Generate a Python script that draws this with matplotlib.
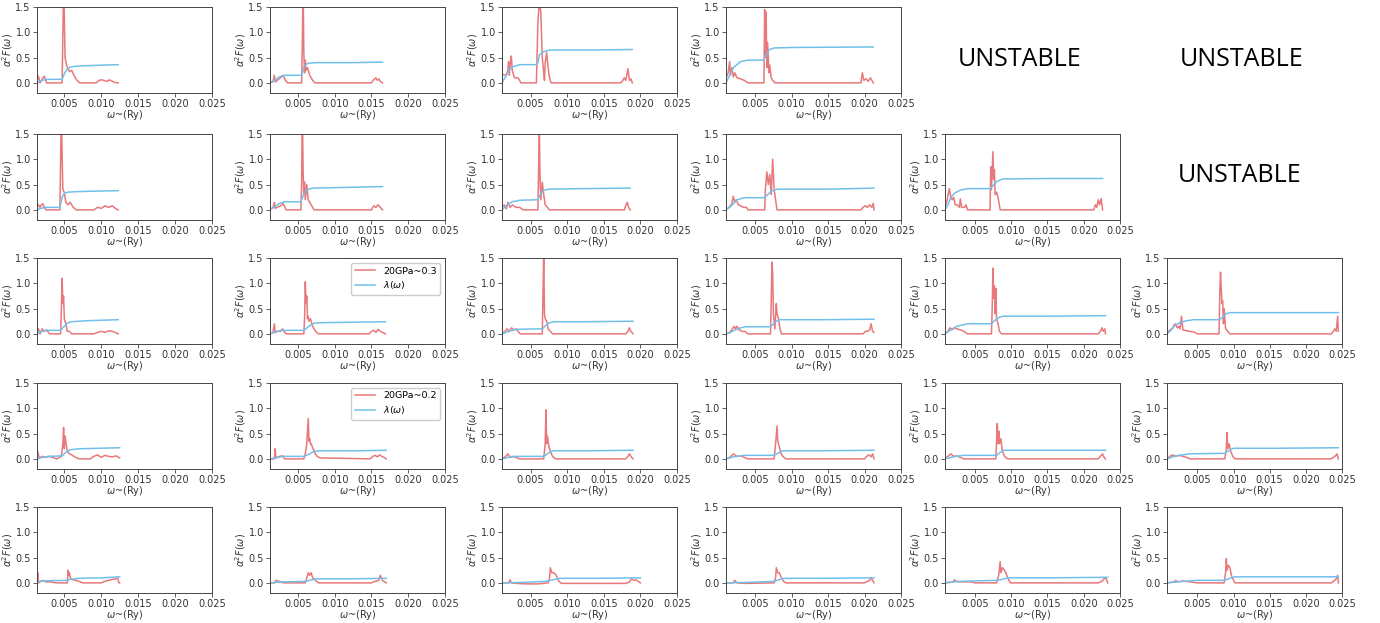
import matplotlib
matplotlib.use("Agg")
import matplotlib.pyplot as plt

# ---------------- data ----------------
xticks = [0.005, 0.010, 0.015, 0.020, 0.025]
yticks = [0.0, 0.5, 1.0, 1.5]
legend_labels = {"r3c2": "20GPa~0.3", "r4c2": "20GPa~0.2"}
lambda_label = r"$\lambda(\omega)$"
unstable_text = "UNSTABLE"

# Row 1
r1c1_w = [0.0013, 0.0015, 0.0017, 0.0019, 0.0021, 0.0023, 0.0025, 0.0026, 0.0047, 0.0048, 0.0049, 0.0050, 0.0051, 0.0053, 0.0055, 0.0057, 0.0060, 0.0063, 0.0067, 0.0071, 0.0093, 0.0097, 0.0101, 0.0105, 0.0108, 0.0111, 0.0114, 0.0118, 0.0123]
r1c1_a2f = [0.05, 0.13, 0.0, 0.05, 0.10, 0.13, 0.05, 0.0, 0.0, 0.9, 1.9, 1.3, 0.5, 0.35, 0.28, 0.22, 0.25, 0.15, 0.05, 0.0, 0.0, 0.05, 0.06, 0.04, 0.03, 0.06, 0.04, 0.01, 0.0]
r1c1_lw = [0.0013, 0.0018, 0.0025, 0.0047, 0.0050, 0.0053, 0.0058, 0.0065, 0.0080, 0.0100, 0.0123]
r1c1_lam = [0.0, 0.04, 0.07, 0.07, 0.18, 0.26, 0.31, 0.33, 0.34, 0.35, 0.36]

r1c2_w = [0.0012, 0.0016, 0.0018, 0.0019, 0.0022, 0.0026, 0.0030, 0.0033, 0.0036, 0.0055, 0.0056, 0.0057, 0.0058, 0.0059, 0.0060, 0.0061, 0.0063, 0.0066, 0.0070, 0.0073, 0.0150, 0.0153, 0.0156, 0.0158, 0.0160, 0.0162, 0.0165]
r1c2_a2f = [0.0, 0.02, 0.15, 0.02, 0.05, 0.1, 0.15, 0.05, 0.0, 0.0, 0.8, 2.0, 0.6, 0.2, 0.45, 0.25, 0.3, 0.15, 0.05, 0.0, 0.0, 0.06, 0.1, 0.05, 0.08, 0.03, 0.0]
r1c2_lw = [0.0012, 0.0018, 0.0025, 0.0032, 0.0055, 0.0058, 0.0061, 0.0065, 0.0075, 0.0120, 0.0165]
r1c2_lam = [0.0, 0.05, 0.12, 0.15, 0.15, 0.3, 0.37, 0.39, 0.40, 0.40, 0.41]

r1c3_w = [0.0011, 0.0017, 0.0019, 0.0020, 0.0021, 0.00223, 0.00237, 0.0025, 0.0026, 0.0028, 0.0033, 0.0035, 0.0037, 0.0058, 0.0060, 0.0062, 0.0064, 0.0066, 0.0068, 0.0069, 0.0070, 0.0072, 0.0074, 0.0076, 0.0078, 0.0173, 0.0176, 0.0178, 0.0180, 0.0183, 0.0185, 0.0187, 0.0189]
r1c3_a2f = [0.16, 0.16, 0.25, 0.42, 0.15, 0.40, 0.53, 0.25, 0.2, 0.1, 0.1, 0.05, 0.0, 0.0, 1.2, 1.6, 1.4, 0.5, 0.2, 0.05, 0.4, 0.6, 0.3, 0.1, 0.0, 0.0, 0.05, 0.1, 0.05, 0.28, 0.05, 0.08, 0.0]
r1c3_lw = [0.0011, 0.0017, 0.0021, 0.0028, 0.0035, 0.0058, 0.0060, 0.0062, 0.0066, 0.0069, 0.0076, 0.0135, 0.0189]
r1c3_lam = [0.0, 0.15, 0.27, 0.33, 0.36, 0.36, 0.40, 0.55, 0.60, 0.62, 0.65, 0.65, 0.66]

r1c4_w = [0.0010, 0.0013, 0.0015, 0.0016, 0.0018, 0.0020, 0.0022, 0.0025, 0.0030, 0.0035, 0.0040, 0.0062, 0.0063, 0.0064, 0.0065, 0.0066, 0.0067, 0.0069, 0.0070, 0.0072, 0.0074, 0.0077, 0.0195, 0.0197, 0.0199, 0.0202, 0.0205, 0.0208, 0.0210, 0.0212]
r1c4_a2f = [0.1, 0.2, 0.42, 0.15, 0.3, 0.12, 0.2, 0.1, 0.08, 0.05, 0.0, 0.0, 1.45, 0.5, 1.4, 0.3, 0.8, 0.2, 0.35, 0.1, 0.05, 0.0, 0.0, 0.2, 0.05, 0.08, 0.03, 0.1, 0.05, 0.0]
r1c4_lw = [0.0010, 0.0015, 0.0020, 0.0030, 0.0040, 0.0062, 0.0066, 0.0070, 0.0076, 0.0100, 0.0212]
r1c4_lam = [0.0, 0.15, 0.3, 0.42, 0.45, 0.45, 0.58, 0.66, 0.69, 0.70, 0.71]

# Row 2
r2c1_w = [0.0013, 0.0015, 0.0017, 0.0019, 0.0021, 0.0023, 0.0025, 0.0044, 0.0045, 0.0046, 0.0047, 0.0048, 0.0050, 0.0052, 0.0055, 0.0058, 0.0062, 0.0066, 0.0090, 0.0095, 0.0100, 0.0105, 0.0110, 0.0115, 0.0120, 0.0123]
r2c1_a2f = [0.05, 0.1, 0.05, 0.1, 0.12, 0.05, 0.0, 0.0, 1.0, 2.0, 1.1, 0.4, 0.35, 0.15, 0.1, 0.15, 0.05, 0.0, 0.0, 0.05, 0.03, 0.08, 0.05, 0.08, 0.02, 0.0]
r2c1_lw = [0.0013, 0.0018, 0.0025, 0.0044, 0.0047, 0.0050, 0.0055, 0.0065, 0.0090, 0.0123]
r2c1_lam = [0.0, 0.03, 0.05, 0.05, 0.25, 0.33, 0.35, 0.36, 0.37, 0.38]

r2c2_w = [0.0012, 0.0016, 0.0018, 0.0019, 0.0022, 0.0026, 0.0030, 0.0034, 0.0054, 0.0055, 0.0056, 0.0057, 0.0058, 0.0059, 0.0060, 0.0062, 0.0064, 0.0068, 0.0072, 0.0150, 0.0153, 0.0156, 0.0159, 0.0162, 0.0165]
r2c2_a2f = [0.0, 0.05, 0.15, 0.03, 0.05, 0.08, 0.12, 0.0, 0.0, 0.5, 2.0, 0.8, 0.3, 0.55, 0.2, 0.5, 0.2, 0.1, 0.0, 0.0, 0.08, 0.05, 0.1, 0.05, 0.0]
r2c2_lw = [0.0012, 0.0018, 0.0025, 0.0032, 0.0054, 0.0058, 0.0062, 0.0070, 0.0100, 0.0165]
r2c2_lam = [0.0, 0.06, 0.13, 0.16, 0.16, 0.32, 0.40, 0.43, 0.44, 0.46]

r2c3_w = [0.0011, 0.0014, 0.0017, 0.0019, 0.0022, 0.0025, 0.0030, 0.0035, 0.0040, 0.0060, 0.0061, 0.0062, 0.0063, 0.0064, 0.0066, 0.0068, 0.0070, 0.0073, 0.0076, 0.0178, 0.0180, 0.0182, 0.0184, 0.0186]
r2c3_a2f = [0.05, 0.1, 0.02, 0.15, 0.05, 0.1, 0.05, 0.05, 0.0, 0.0, 0.8, 1.6, 0.6, 0.2, 0.55, 0.3, 0.1, 0.05, 0.0, 0.0, 0.08, 0.15, 0.05, 0.0]
r2c3_lw = [0.0011, 0.0018, 0.0025, 0.0035, 0.0060, 0.0064, 0.0068, 0.0075, 0.0120, 0.0186]
r2c3_lam = [0.0, 0.1, 0.16, 0.19, 0.20, 0.32, 0.39, 0.41, 0.42, 0.43]

r2c4_w = [0.0010, 0.0014, 0.0018, 0.0020, 0.0022, 0.0024, 0.0027, 0.0030, 0.0034, 0.0038, 0.0040, 0.0063, 0.0064, 0.0066, 0.0068, 0.0070, 0.0072, 0.0074, 0.0076, 0.0078, 0.0080, 0.0195, 0.0198, 0.0201, 0.0204, 0.0207, 0.0210, 0.0212, 0.0213]
r2c4_a2f = [0.0, 0.05, 0.12, 0.27, 0.15, 0.2, 0.1, 0.08, 0.05, 0.05, 0.0, 0.0, 0.4, 0.75, 0.5, 0.7, 0.3, 1.0, 0.4, 0.2, 0.0, 0.0, 0.05, 0.08, 0.05, 0.1, 0.05, 0.13, 0.0]
r2c4_lw = [0.0010, 0.0015, 0.0020, 0.0025, 0.0035, 0.0063, 0.0067, 0.0072, 0.0080, 0.0150, 0.0213]
r2c4_lam = [0.0, 0.05, 0.12, 0.2, 0.24, 0.24, 0.30, 0.37, 0.41, 0.41, 0.43]

r2c5_w = [0.0009, 0.0012, 0.0015, 0.0017, 0.0019, 0.0021, 0.0023, 0.0026, 0.0029, 0.0030, 0.0032, 0.0036, 0.0038, 0.0040, 0.0071, 0.0072, 0.0073, 0.0075, 0.0076, 0.0077, 0.0078, 0.0080, 0.0082, 0.0085, 0.0214, 0.0216, 0.0218, 0.0220, 0.0222, 0.0224, 0.0226]
r2c5_a2f = [0.05, 0.2, 0.42, 0.25, 0.2, 0.25, 0.1, 0.1, 0.05, 0.22, 0.05, 0.05, 0.1, 0.0, 0.0, 0.85, 0.4, 1.15, 0.6, 0.8, 0.3, 0.35, 0.25, 0.0, 0.0, 0.1, 0.05, 0.2, 0.1, 0.22, 0.0]
r2c5_lw = [0.0009, 0.0013, 0.0017, 0.0022, 0.0030, 0.0040, 0.0071, 0.0075, 0.0080, 0.0088, 0.0150, 0.0226]
r2c5_lam = [0.0, 0.1, 0.25, 0.33, 0.39, 0.42, 0.42, 0.48, 0.56, 0.61, 0.62, 0.62]

# Row 3
r3c1_w = [0.0013, 0.0015, 0.0017, 0.0020, 0.0023, 0.0026, 0.0030, 0.0045, 0.0046, 0.0047, 0.0048, 0.0049, 0.0050, 0.0052, 0.0054, 0.0057, 0.0060, 0.0090, 0.0095, 0.0100, 0.0105, 0.0110, 0.0115, 0.0120, 0.0123]
r3c1_a2f = [0.05, 0.1, 0.0, 0.1, 0.05, 0.08, 0.0, 0.0, 0.5, 1.1, 0.6, 0.75, 0.3, 0.2, 0.05, 0.05, 0.0, 0.0, 0.03, 0.05, 0.03, 0.06, 0.05, 0.02, 0.0]
r3c1_lw = [0.0013, 0.0018, 0.0025, 0.0045, 0.0050, 0.0055, 0.0060, 0.0080, 0.0123]
r3c1_lam = [0.0, 0.04, 0.07, 0.07, 0.15, 0.22, 0.24, 0.26, 0.28]

r3c2_w = [0.0012, 0.0016, 0.0018, 0.0019, 0.0022, 0.0026, 0.0029, 0.0031, 0.0034, 0.0058, 0.0059, 0.0060, 0.0061, 0.0062, 0.0063, 0.0064, 0.0065, 0.0067, 0.0070, 0.0074, 0.0078, 0.0080, 0.0147, 0.0150, 0.0153, 0.0156, 0.0159, 0.0162, 0.0165, 0.0169]
r3c2_a2f = [0.0, 0.02, 0.2, 0.02, 0.05, 0.05, 0.1, 0.05, 0.0, 0.0, 0.3, 1.03, 0.6, 0.75, 0.3, 0.35, 0.25, 0.3, 0.15, 0.05, 0.0, 0.0, 0.0, 0.05, 0.07, 0.03, 0.09, 0.05, 0.03, 0.0]
r3c2_lw = [0.0012, 0.0020, 0.0030, 0.0058, 0.0065, 0.0072, 0.0080, 0.0120, 0.0169]
r3c2_lam = [0.0, 0.05, 0.07, 0.07, 0.15, 0.21, 0.22, 0.23, 0.24]

r3c3_w = [0.0011, 0.0015, 0.0018, 0.0021, 0.0024, 0.0027, 0.0030, 0.0033, 0.0036, 0.0066, 0.0067, 0.0068, 0.0069, 0.0070, 0.0072, 0.0074, 0.0077, 0.0080, 0.0180, 0.0183, 0.0185, 0.0187, 0.0190]
r3c3_a2f = [0.0, 0.05, 0.1, 0.05, 0.12, 0.08, 0.1, 0.05, 0.0, 0.0, 0.8, 1.6, 0.4, 0.3, 0.25, 0.1, 0.05, 0.0, 0.0, 0.05, 0.12, 0.05, 0.0]
r3c3_lw = [0.0011, 0.0020, 0.0030, 0.0066, 0.0071, 0.0076, 0.0082, 0.0120, 0.0190]
r3c3_lam = [0.0, 0.05, 0.09, 0.1, 0.17, 0.22, 0.24, 0.24, 0.25]

r3c4_w = [0.0010, 0.0015, 0.0019, 0.0021, 0.0023, 0.0025, 0.0028, 0.0032, 0.0036, 0.0040, 0.0071, 0.0072, 0.0073, 0.0074, 0.0075, 0.0077, 0.0079, 0.0080, 0.0082, 0.0084, 0.0086, 0.0198, 0.0201, 0.0204, 0.0207, 0.0209, 0.0211, 0.0213]
r3c4_a2f = [0.0, 0.03, 0.1, 0.15, 0.1, 0.15, 0.08, 0.05, 0.05, 0.0, 0.0, 0.6, 1.42, 1.2, 0.4, 0.1, 0.6, 0.4, 0.3, 0.1, 0.0, 0.0, 0.05, 0.05, 0.08, 0.2, 0.05, 0.03]
r3c4_lw = [0.0010, 0.0015, 0.0020, 0.0028, 0.0036, 0.0071, 0.0075, 0.0079, 0.0084, 0.0140, 0.0213]
r3c4_lam = [0.0, 0.02, 0.06, 0.11, 0.14, 0.14, 0.2, 0.25, 0.28, 0.28, 0.29]

r3c5_w = [0.0009, 0.0013, 0.0016, 0.0019, 0.0022, 0.0025, 0.0030, 0.0035, 0.0040, 0.0073, 0.0074, 0.0075, 0.0076, 0.0077, 0.0078, 0.0079, 0.0080, 0.0082, 0.0084, 0.0087, 0.0220, 0.0223, 0.0225, 0.0227, 0.0229, 0.0230]
r3c5_a2f = [0.0, 0.05, 0.12, 0.08, 0.12, 0.1, 0.08, 0.05, 0.0, 0.0, 0.5, 1.3, 0.7, 0.95, 0.4, 0.9, 0.3, 0.2, 0.05, 0.0, 0.0, 0.05, 0.12, 0.05, 0.1, 0.0]
r3c5_lw = [0.0009, 0.0015, 0.0025, 0.0040, 0.0073, 0.0078, 0.0084, 0.0090, 0.0150, 0.0230]
r3c5_lam = [0.0, 0.06, 0.15, 0.2, 0.2, 0.27, 0.33, 0.35, 0.35, 0.36]

r3c6_w = [0.0008, 0.0012, 0.0015, 0.0018, 0.0020, 0.0022, 0.0024, 0.0026, 0.0028, 0.0030, 0.0035, 0.0045, 0.0050, 0.0080, 0.0081, 0.0082, 0.0083, 0.0084, 0.0085, 0.0086, 0.0087, 0.0089, 0.0092, 0.0095, 0.0235, 0.0238, 0.0240, 0.0242, 0.0244, 0.0245]
r3c6_a2f = [0.0, 0.08, 0.1, 0.18, 0.2, 0.12, 0.15, 0.1, 0.35, 0.08, 0.06, 0.04, 0.0, 0.0, 0.8, 1.22, 0.9, 0.6, 0.65, 0.2, 0.5, 0.1, 0.05, 0.0, 0.0, 0.05, 0.1, 0.05, 0.35, 0.05]
r3c6_lw = [0.0008, 0.0013, 0.0018, 0.0025, 0.0035, 0.0045, 0.0080, 0.0085, 0.0090, 0.0095, 0.0150, 0.0245]
r3c6_lam = [0.0, 0.06, 0.15, 0.22, 0.26, 0.28, 0.28, 0.33, 0.40, 0.42, 0.42, 0.42]

# Row 4
r4c1_w = [0.0013, 0.0014, 0.0016, 0.0020, 0.0025, 0.0030, 0.0040, 0.0046, 0.0048, 0.0049, 0.0050, 0.0051, 0.0052, 0.0054, 0.0057, 0.0060, 0.0065, 0.0070, 0.0085, 0.0090, 0.0095, 0.0100, 0.0105, 0.0110, 0.0115, 0.0120, 0.0125]
r4c1_a2f = [0.0, 0.15, 0.02, 0.05, 0.03, 0.05, 0.0, 0.05, 0.3, 0.62, 0.2, 0.45, 0.35, 0.15, 0.1, 0.08, 0.03, 0.0, 0.0, 0.05, 0.08, 0.03, 0.07, 0.05, 0.04, 0.06, 0.02]
r4c1_lw = [0.0013, 0.0020, 0.0030, 0.0047, 0.0052, 0.0058, 0.0070, 0.0125]
r4c1_lam = [0.0, 0.03, 0.05, 0.06, 0.13, 0.18, 0.2, 0.22]

r4c2_w = [0.0012, 0.0018, 0.0019, 0.0020, 0.0025, 0.0029, 0.0032, 0.0058, 0.0060, 0.0062, 0.0064, 0.0065, 0.0066, 0.0067, 0.0068, 0.0070, 0.0073, 0.0076, 0.0080, 0.0148, 0.0152, 0.0155, 0.0158, 0.0161, 0.0164, 0.0167, 0.0170]
r4c2_a2f = [0.0, 0.0, 0.2, 0.02, 0.05, 0.06, 0.0, 0.0, 0.1, 0.3, 0.8, 0.35, 0.4, 0.3, 0.3, 0.22, 0.12, 0.05, 0.02, 0.0, 0.05, 0.07, 0.04, 0.08, 0.05, 0.03, 0.0]
r4c2_lw = [0.0012, 0.0020, 0.0030, 0.0058, 0.0065, 0.0072, 0.0080, 0.0130, 0.0170]
r4c2_lam = [0.0, 0.02, 0.05, 0.05, 0.09, 0.15, 0.16, 0.16, 0.17]

r4c3_w = [0.0011, 0.0016, 0.0019, 0.0022, 0.0026, 0.0030, 0.0035, 0.0068, 0.0070, 0.0071, 0.0072, 0.0073, 0.0075, 0.0077, 0.0080, 0.0084, 0.0180, 0.0183, 0.0185, 0.0188, 0.0190]
r4c3_a2f = [0.0, 0.05, 0.1, 0.03, 0.05, 0.03, 0.0, 0.0, 0.3, 0.97, 0.3, 0.45, 0.25, 0.15, 0.05, 0.0, 0.0, 0.05, 0.1, 0.03, 0.0]
r4c3_lw = [0.0011, 0.0020, 0.0030, 0.0068, 0.0074, 0.0080, 0.0130, 0.0190]
r4c3_lam = [0.0, 0.03, 0.05, 0.05, 0.11, 0.16, 0.16, 0.17]

r4c4_w = [0.0010, 0.0015, 0.0020, 0.0025, 0.0030, 0.0035, 0.0040, 0.0076, 0.0078, 0.0080, 0.0081, 0.0083, 0.0085, 0.0088, 0.0092, 0.0200, 0.0203, 0.0206, 0.0209, 0.0211, 0.0213]
r4c4_a2f = [0.0, 0.03, 0.1, 0.05, 0.06, 0.03, 0.0, 0.0, 0.3, 0.65, 0.35, 0.25, 0.12, 0.05, 0.0, 0.0, 0.05, 0.08, 0.04, 0.1, 0.0]
r4c4_lw = [0.0010, 0.0020, 0.0035, 0.0076, 0.0082, 0.0088, 0.0140, 0.0213]
r4c4_lam = [0.0, 0.04, 0.07, 0.07, 0.12, 0.16, 0.16, 0.17]

r4c5_w = [0.0009, 0.0013, 0.0017, 0.0021, 0.0025, 0.0030, 0.0035, 0.0079, 0.0080, 0.0081, 0.0082, 0.0083, 0.0084, 0.0086, 0.0088, 0.0091, 0.0095, 0.0220, 0.0223, 0.0226, 0.0228, 0.0230]
r4c5_a2f = [0.0, 0.05, 0.1, 0.05, 0.06, 0.03, 0.0, 0.0, 0.35, 0.7, 0.3, 0.55, 0.3, 0.4, 0.15, 0.05, 0.0, 0.0, 0.05, 0.1, 0.03, 0.0]
r4c5_lw = [0.0009, 0.0020, 0.0035, 0.0080, 0.0085, 0.0090, 0.0150, 0.0230]
r4c5_lam = [0.0, 0.04, 0.07, 0.07, 0.13, 0.17, 0.17, 0.17]

r4c6_w = [0.0008, 0.0012, 0.0016, 0.0020, 0.0025, 0.0030, 0.0035, 0.0040, 0.0088, 0.0090, 0.0091, 0.0092, 0.0094, 0.0096, 0.0099, 0.0102, 0.0235, 0.0238, 0.0241, 0.0243, 0.0245]
r4c6_a2f = [0.0, 0.05, 0.08, 0.05, 0.07, 0.05, 0.03, 0.0, 0.0, 0.2, 0.52, 0.2, 0.3, 0.15, 0.05, 0.0, 0.0, 0.03, 0.06, 0.1, 0.0]
r4c6_lw = [0.0008, 0.0020, 0.0040, 0.0088, 0.0094, 0.0100, 0.0160, 0.0245]
r4c6_lam = [0.0, 0.06, 0.1, 0.11, 0.17, 0.21, 0.21, 0.22]

# Row 5
r5c1_w = [0.0013, 0.0014, 0.0015, 0.0017, 0.0020, 0.0025, 0.0030, 0.0040, 0.0054, 0.0055, 0.0056, 0.0057, 0.0058, 0.0060, 0.0065, 0.0070, 0.0075, 0.0080, 0.0100, 0.0105, 0.0110, 0.0115, 0.0120, 0.0122, 0.0124, 0.0125]
r5c1_a2f = [0.0, 0.2, 0.0, 0.02, 0.05, 0.02, 0.02, 0.0, 0.0, 0.25, 0.15, 0.2, 0.1, 0.07, 0.05, 0.03, 0.0, 0.0, 0.0, 0.03, 0.05, 0.07, 0.08, 0.1, 0.0, 0.0]
r5c1_lw = [0.0013, 0.0020, 0.0054, 0.0058, 0.0070, 0.0100, 0.0125]
r5c1_lam = [0.02, 0.04, 0.05, 0.07, 0.09, 0.1, 0.12]

r5c2_w = [0.0012, 0.0018, 0.0020, 0.0025, 0.0030, 0.0060, 0.0062, 0.0064, 0.0066, 0.0068, 0.0070, 0.0074, 0.0078, 0.0150, 0.0155, 0.0160, 0.0162, 0.0165, 0.0170]
r5c2_a2f = [0.0, 0.0, 0.05, 0.03, 0.0, 0.0, 0.1, 0.2, 0.15, 0.2, 0.1, 0.05, 0.0, 0.0, 0.03, 0.05, 0.15, 0.05, 0.0]
r5c2_lw = [0.0012, 0.0030, 0.0060, 0.0066, 0.0075, 0.0120, 0.0170]
r5c2_lam = [0.0, 0.02, 0.03, 0.05, 0.08, 0.08, 0.09]

r5c3_w = [0.0011, 0.0020, 0.0022, 0.0024, 0.0030, 0.0045, 0.0060, 0.0074, 0.0076, 0.0077, 0.0079, 0.0082, 0.0085, 0.0088, 0.0091, 0.0093, 0.0180, 0.0185, 0.0188, 0.0191, 0.0194, 0.0197, 0.0200]
r5c3_a2f = [0.0, 0.0, 0.06, 0.0, -0.01, -0.02, -0.02, 0.0, 0.1, 0.3, 0.2, 0.2, 0.15, 0.05, 0.0, -0.01, -0.01, 0.02, 0.08, 0.05, 0.06, 0.03, 0.0]
r5c3_lw = [0.0011, 0.0040, 0.0070, 0.0080, 0.0090, 0.0140, 0.0200]
r5c3_lam = [0.0, 0.01, 0.03, 0.06, 0.09, 0.09, 0.1]

r5c4_w = [0.0010, 0.0020, 0.0022, 0.0025, 0.0035, 0.0076, 0.0078, 0.0079, 0.0081, 0.0083, 0.0086, 0.0089, 0.0092, 0.0200, 0.0204, 0.0207, 0.0209, 0.0211, 0.0213]
r5c4_a2f = [0.0, 0.0, 0.05, 0.0, -0.01, 0.0, 0.1, 0.3, 0.2, 0.2, 0.1, 0.03, 0.0, 0.0, 0.03, 0.05, 0.1, 0.05, 0.0]
r5c4_lw = [0.0010, 0.0040, 0.0076, 0.0082, 0.0090, 0.0140, 0.0213]
r5c4_lam = [0.0, 0.01, 0.03, 0.06, 0.09, 0.09, 0.1]

r5c5_w = [0.0009, 0.0020, 0.0022, 0.0025, 0.0030, 0.0045, 0.0050, 0.0080, 0.0083, 0.0085, 0.0086, 0.0088, 0.0091, 0.0094, 0.0097, 0.0099, 0.0220, 0.0225, 0.0228, 0.0230, 0.0232, 0.0233]
r5c5_a2f = [0.0, 0.02, 0.06, 0.03, 0.02, 0.02, 0.0, 0.0, 0.15, 0.42, 0.2, 0.3, 0.25, 0.15, 0.05, 0.0, 0.0, 0.03, 0.08, 0.1, 0.05, 0.0]
r5c5_lw = [0.0009, 0.0030, 0.0050, 0.0080, 0.0088, 0.0096, 0.0150, 0.0233]
r5c5_lam = [0.0, 0.03, 0.04, 0.05, 0.07, 0.1, 0.1, 0.11]

r5c6_w = [0.0008, 0.0018, 0.0020, 0.0023, 0.0030, 0.0040, 0.0050, 0.0087, 0.0089, 0.0090, 0.0091, 0.0093, 0.0095, 0.0097, 0.0100, 0.0102, 0.0235, 0.0240, 0.0242, 0.0244, 0.0245]
r5c6_a2f = [0.0, 0.02, 0.05, 0.02, 0.04, 0.02, 0.0, 0.0, 0.2, 0.48, 0.25, 0.35, 0.3, 0.15, 0.05, 0.0, 0.0, 0.05, 0.08, 0.15, 0.0]
r5c6_lw = [0.0008, 0.0030, 0.0050, 0.0087, 0.0095, 0.0102, 0.0160, 0.0245]
r5c6_lam = [0.0, 0.03, 0.05, 0.05, 0.09, 0.12, 0.12, 0.12]

# ---------------- assembly ----------------
g = globals()
# UNSTABLE cells with the pixel centre of their text
unstable_cells = {(0, 4): (1020, 60), (0, 5): (1242, 60), (1, 5): (1240, 175)}

RED = "#e8787b"
BLUE = "#72c0ea"

W, H = 1380, 623
fig = plt.figure(figsize=(W / 100, H / 100), dpi=100)

col_left = [37, 270, 502, 726, 945, 1167]
row_top = [7, 134, 258, 383, 507]
ax_w, ax_h = 175, 86

FS = 7

for r in range(5):
    for c in range(6):
        x0, y0 = col_left[c], row_top[r]
        if (r, c) in unstable_cells:
            tx, ty = unstable_cells[(r, c)]
            fig.text(tx / W, 1 - ty / H, unstable_text,
                     ha="center", va="center", fontsize=18, family="Open Sans")
            continue
        key = f"r{r+1}c{c+1}"
        w, a2f = g[key + "_w"], g[key + "_a2f"]
        lw_, lam = g[key + "_lw"], g[key + "_lam"]
        ax = fig.add_axes([x0 / W, 1 - (y0 + ax_h) / H, ax_w / W, ax_h / H])
        lbl = legend_labels.get(key, "a2F")
        ax.plot(w, a2f, color=RED, lw=1.1, label=lbl)
        ax.plot(lw_, lam, color=BLUE, lw=1.1, label=lambda_label)
        ax.set_xlim(w[0], 0.025)
        ax.set_ylim(-0.2, 1.5)
        ax.set_xticks(xticks)
        ax.set_xticklabels([f"{t:.3f}" for t in xticks], fontsize=FS, color="#333333")
        ax.set_yticks(yticks)
        ax.set_yticklabels([f"{t:.1f}" for t in yticks], fontsize=FS, color="#333333")
        ax.tick_params(length=3, pad=1.5, width=0.6, color="#444444")
        for s in ax.spines.values():
            s.set_linewidth(0.7)
            s.set_color("#444444")
        ax.set_xlabel(r"$\omega$~(Ry)", fontsize=FS, labelpad=-1, color="#333333")
        ax.set_ylabel(r"$\alpha^2F(\omega)$", fontsize=FS, labelpad=0, color="#333333")
        if key in legend_labels:
            ax.legend(loc="upper right", fontsize=6.8, handlelength=2.2,
                      borderpad=0.4, labelspacing=0.4, framealpha=1)

fig.savefig("out.png", dpi=100)
